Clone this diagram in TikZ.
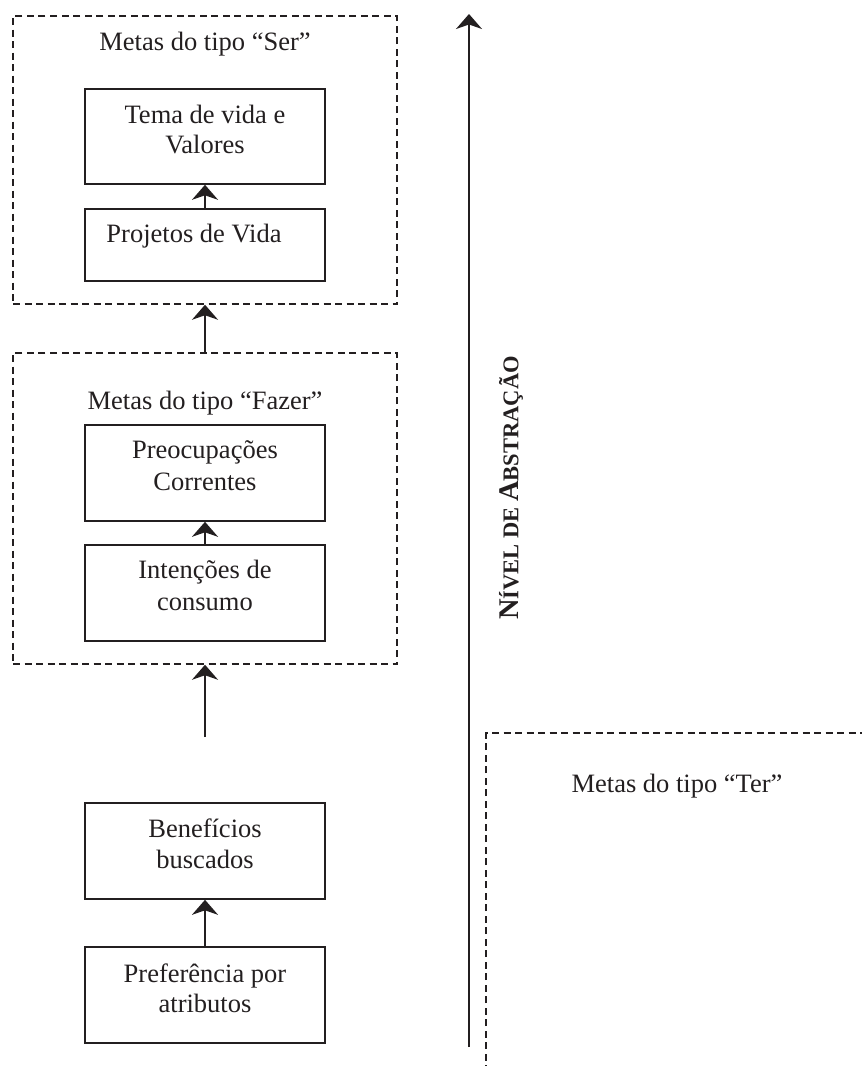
\documentclass[tikz,border=0pt]{standalone}
\usepackage{fontspec}
\setmainfont{Liberation Serif}
\usetikzlibrary{arrows.meta}
\definecolor{ink}{RGB}{35,31,32}
\begin{document}
\begin{tikzpicture}[x=1pt,y=-1pt,
  every node/.style={text=ink},
  txt/.style={font=\fontsize{26.5}{31}\selectfont, inner sep=0pt, anchor=base},
  box/.style={draw=ink, line width=1.6pt, minimum width=240pt, inner sep=0pt},
  grp/.style={draw=ink, line width=1.5pt, dash pattern=on 7pt off 4.5pt, minimum width=384pt, inner sep=0pt},
  arr/.style={draw=ink, line width=1.8pt, -{Stealth[length=15pt,width=26pt,inset=4.5pt]}},
  dsh/.style={draw=ink, line width=1.5pt, dash pattern=on 7pt off 4.5pt}
]
\useasboundingbox (0,0) rectangle (862,1066);

% group boxes
\node[grp, minimum height=288pt] (ser) at (205,160) {};
\node[grp, minimum height=311pt] (fazer) at (205,508.5) {};

% boxes
\node[box, minimum height=95pt] (tema) at (205,136.5) {};
\node[box, minimum height=72pt] (proj) at (205,245) {};
\node[box, minimum height=96pt] (preo) at (205,473) {};
\node[box, minimum height=96pt] (inte) at (205,593) {};
\node[box, minimum height=96pt] (bene) at (205,851) {};
\node[box, minimum height=96pt] (pref) at (205,995) {};

% texts
\node[txt] (serT) at (205,50) {Metas do tipo “Ser”};
\node[txt] (temaA) at (205,123) {Tema de vida e};
\node[txt] (temaB) at (205,153) {Valores};
\node[txt] (projA) at (194,242) {Projetos de Vida};
\node[txt] (fazT) at (205,409) {Metas do tipo “Fazer”};
\node[txt] (preoA) at (205,458) {Preocupações};
\node[txt] (preoB) at (205,490) {Correntes};
\node[txt] (inteA) at (205,578) {Intenções de};
\node[txt] (inteB) at (205,610) {consumo};
\node[txt] (beneA) at (205,837) {Benefícios};
\node[txt] (beneB) at (205,868) {buscados};
\node[txt] (prefA) at (205,982) {Preferência por};
\node[txt] (prefB) at (205,1012) {atributos};
\node[txt] (terT) at (677,792) {Metas do tipo “Ter”};

% arrows
\draw[arr] (proj.north) -- (tema.south);
\draw[arr] (fazer.north) -- (ser.south);
\draw[arr] (inte.north) -- (preo.south);
\coordinate (lowS) at (205,737);
\draw[arr] (lowS) -- (fazer.south);
\draw[arr] (pref.north) -- (bene.south);

% axis
\coordinate (axB) at (469,1047);
\coordinate (axT) at (469,14);
\draw[arr] (axB) -- (axT);
\node[rotate=90, inner sep=0pt, font=\bfseries] (axL) at (511,488)
  {{\fontsize{28.5}{30}\selectfont N}{\fontsize{22.5}{25}\selectfont ÍVEL DE }{\fontsize{28.5}{30}\selectfont A}{\fontsize{22.5}{25}\selectfont BSTRAÇÃO}};

% Ter group (open)
\coordinate (terA) at (486,1072);
\coordinate (terB) at (486,733);
\coordinate (terC) at (868,733);
\draw[dsh] (terA) -- (terB) -- (terC);
\end{tikzpicture}
\end{document}
